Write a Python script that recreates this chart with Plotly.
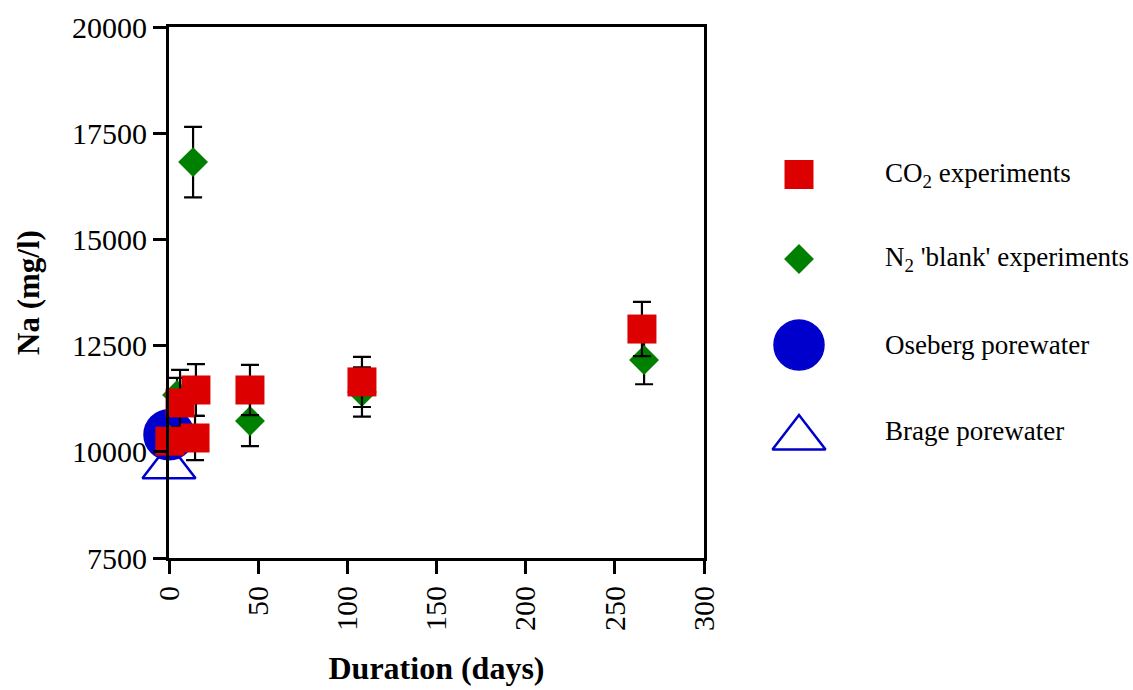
import plotly.graph_objects as go

# ---------------- data ----------------
co2_days = [0.5, 14.6, 6.2, 15.1, 45.4, 108.2, 265.2]
co2_na = [10250, 10325, 11150, 11455, 11455, 11645, 12890]
co2_err = [300, 520, 780, 610, 590, 590, 640]

n2_days = [0.5, 4.5, 13.5, 45.4, 108.2, 266.4]
n2_na = [10280, 11340, 16820, 10725, 11410, 12160]
n2_err = [300, 400, 830, 590, 580, 570]

oseberg_days = [0]
oseberg_na = [10400]

brage_days = [0]
brage_na = [9650]

x_ticks = [0, 50, 100, 150, 200, 250, 300]
x_tick_labels = ["0", "50", "100", "150", "200", "250", "300"]
y_ticks = [7500, 10000, 12500, 15000, 17500, 20000]
y_tick_labels = ["7500", "10000", "12500", "15000", "17500", "20000"]

legend_labels = ["CO<sub>2</sub> experiments", "N<sub>2</sub> 'blank' experiments",
                 "Oseberg porewater", "Brage porewater"]

# ---------------- layout constants (page pixels) ----------------
W, H = 1133, 690
L, R, T, B = 169, 704, 27, 558   # plot area
FONT = "Liberation Serif"
RED = "#DD0000"
GREEN = "#008000"
BLUE = "#0000CC"

paper_w = W - L
main_dom = [0, (R - L) / paper_w]
leg_left = 740
leg_dom = [(leg_left - L) / paper_w, 1]

fig = go.Figure()

# Brage porewater (open triangle)
fig.add_trace(go.Scatter(
    x=brage_days, y=brage_na, mode="markers", name="Brage porewater",
    marker=dict(symbol="triangle-up-open", size=46, color=BLUE, line=dict(width=2.5, color=BLUE)),
    cliponaxis=False, showlegend=False))

# Oseberg porewater (filled circle)
fig.add_trace(go.Scatter(
    x=oseberg_days, y=oseberg_na, mode="markers", name="Oseberg porewater",
    marker=dict(symbol="circle", size=50, color=BLUE, line=dict(width=1.5, color=BLUE)),
    cliponaxis=False, showlegend=False))

# N2 blank experiments (diamonds)
fig.add_trace(go.Scatter(
    x=n2_days, y=n2_na, mode="markers", name="N2 'blank' experiments",
    marker=dict(symbol="diamond", size=23, color=GREEN, line=dict(width=0)),
    error_y=dict(type="data", array=n2_err, visible=True, color="black", thickness=2.2, width=9),
    cliponaxis=False, showlegend=False))

# CO2 experiments (squares)
fig.add_trace(go.Scatter(
    x=co2_days, y=co2_na, mode="markers", name="CO2 experiments",
    marker=dict(symbol="square", size=29, color=RED, line=dict(width=0)),
    error_y=dict(type="data", array=co2_err, visible=True, color="black", thickness=2.2, width=9),
    cliponaxis=False, showlegend=False))

# ---------------- manual legend (pixel coordinates on a hidden axis) ----------------
leg_y = [174.5, 259, 345, 431]
leg_x = 799
leg_text_x = 883
leg_styles = [
    dict(symbol="square", size=29, color=RED, line=dict(width=0)),
    dict(symbol="diamond", size=23, color=GREEN, line=dict(width=0)),
    dict(symbol="circle", size=50, color=BLUE, line=dict(width=1.5, color=BLUE)),
    dict(symbol="triangle-up-open", size=46, color=BLUE, line=dict(width=2.5, color=BLUE)),
]
leg_marker_y = [174.5, 259, 345, 438]
for yy, st in zip(leg_marker_y, leg_styles):
    fig.add_trace(go.Scatter(x=[leg_x], y=[yy], mode="markers", marker=st,
                             xaxis="x2", yaxis="y2", showlegend=False,
                             cliponaxis=False, hoverinfo="skip"))
for yy, txt in zip(leg_y, legend_labels):
    fig.add_annotation(x=leg_text_x, y=yy, xref="x2", yref="y2", text=txt,
                       showarrow=False, xanchor="left", yanchor="middle",
                       font=dict(family=FONT, size=27, color="black"))

axis_common = dict(
    showline=True, linecolor="black", linewidth=3, mirror=True,
    ticks="outside", ticklen=13, tickwidth=2.5, tickcolor="black",
    showgrid=False, zeroline=False,
    tickfont=dict(family=FONT, size=30, color="black"),
)

fig.update_layout(
    width=W, height=H,
    margin=dict(l=L, r=0, t=T, b=H - B, pad=0),
    paper_bgcolor="white", plot_bgcolor="rgba(0,0,0,0)",
    font=dict(family=FONT, color="black", size=30),
    showlegend=False,
    xaxis=dict(domain=main_dom, range=[0, 300], tickmode="array", tickvals=x_ticks,
               ticktext=x_tick_labels, tickangle=-90, automargin=False,
               title=dict(text="<b>Duration (days)</b>", standoff=27,
                          font=dict(family=FONT, size=32, color="black")),
               **axis_common),
    yaxis=dict(domain=[0, 1], range=[7500, 20000], tickmode="array", tickvals=y_ticks,
               ticktext=y_tick_labels, automargin=False,
               title=dict(text="<b>Na (mg/l)</b>", standoff=24,
                          font=dict(family=FONT, size=31, color="black")),
               **axis_common),
    xaxis2=dict(domain=leg_dom, range=[leg_left, W], visible=False, anchor="y2"),
    yaxis2=dict(domain=[0, 1], range=[B, T], visible=False, anchor="x2"),
)

fig.write_html(
    "out.html",
    config={"displayModeBar": False},
    post_script="document.body.style.margin='0';document.body.style.overflow='hidden';",
)
